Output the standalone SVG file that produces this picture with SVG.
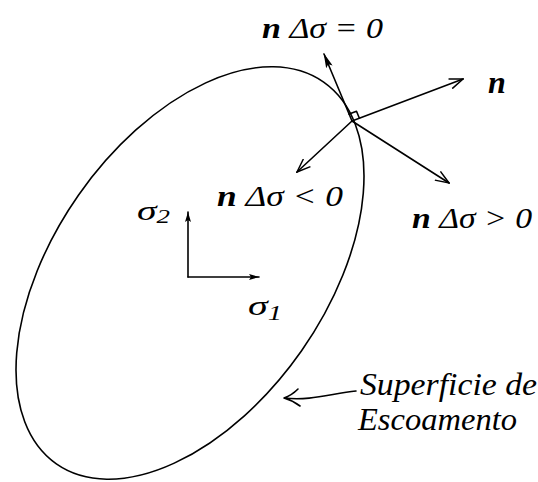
<svg xmlns="http://www.w3.org/2000/svg" width="538" height="482" viewBox="0 0 538 482">
<style>
.ln{fill:none;stroke:#000;stroke-width:1.6;stroke-linecap:round;stroke-linejoin:round}
.tx{font-family:"Liberation Serif","Times New Roman",serif;font-style:italic;fill:#000}
.b{font-weight:bold}
</style>
<defs>
<marker id="open" viewBox="0 0 15 12" refX="14" refY="6" markerWidth="15" markerHeight="12" markerUnits="userSpaceOnUse" orient="auto">
<path d="M0.5,0.8 L14,6 L0.5,11.2" fill="none" stroke="#000" stroke-width="1.5"/>
</marker>
<marker id="fill" viewBox="0 0 15 7" refX="14" refY="3.5" markerWidth="15" markerHeight="7" markerUnits="userSpaceOnUse" orient="auto">
<path d="M0,0 L15,3.5 L0,7 L3,3.5 Z" fill="#000"/>
</marker>
<marker id="small" viewBox="0 0 10 6" refX="10" refY="3" markerWidth="10" markerHeight="6" markerUnits="userSpaceOnUse" orient="auto">
<path d="M0,0 L10,3 L0,6 L2,3 Z" fill="#000"/>
</marker>
</defs>
<g id="surface">
<ellipse class="ln" cx="190" cy="273" rx="233" ry="136" transform="rotate(-55 190 273)"/>
</g>
<g id="connectors">
<line class="ln" x1="352" y1="121" x2="324" y2="54" marker-end="url(#fill)"/>
<line class="ln" x1="352" y1="121" x2="463" y2="79" marker-end="url(#open)"/>
<line class="ln" x1="352" y1="121" x2="297" y2="172" marker-end="url(#open)"/>
<line class="ln" x1="352" y1="121" x2="449" y2="183" marker-end="url(#open)"/>
<path class="ln" d="M349.1,114.1 L356.5,111.3 L359.4,118.2" stroke-width="1.3"/>
<line class="ln" x1="188" y1="277" x2="188" y2="212" stroke-width="1.3" marker-end="url(#small)"/>
<line class="ln" x1="188" y1="277" x2="259" y2="277" stroke-width="1.3" marker-end="url(#small)"/>
<path class="ln" d="M356,391 C330,394 310,401 284,398 M284,398 C290,396 295,392 298,389 M284,398 C291,400 296,403 300,406" stroke-width="1.5"/>
</g>
<g id="labels">
<text class="tx" x="262" y="38" font-size="30" textLength="121" lengthAdjust="spacingAndGlyphs"><tspan class="b">n</tspan> Δσ = 0</text>
<text class="tx b" x="488" y="93" font-size="32">n</text>
<text class="tx" x="217" y="206" font-size="30" textLength="126" lengthAdjust="spacingAndGlyphs"><tspan class="b">n</tspan> Δσ &lt; 0</text>
<text class="tx" x="412" y="228" font-size="30" textLength="120" lengthAdjust="spacingAndGlyphs"><tspan class="b">n</tspan> Δσ &gt; 0</text>
<text class="tx" x="137" y="220" font-size="28" textLength="33" lengthAdjust="spacingAndGlyphs">σ<tspan font-size="19" dy="3">2</tspan></text>
<text class="tx" x="248" y="315" font-size="28" textLength="34" lengthAdjust="spacingAndGlyphs">σ<tspan font-size="20" dy="5">1</tspan></text>
<text class="tx" x="360" y="395" font-size="31" textLength="177" lengthAdjust="spacingAndGlyphs">Superficie de</text>
<text class="tx" x="358" y="430" font-size="31" textLength="159" lengthAdjust="spacingAndGlyphs">Escoamento</text>
</g>
</svg>
